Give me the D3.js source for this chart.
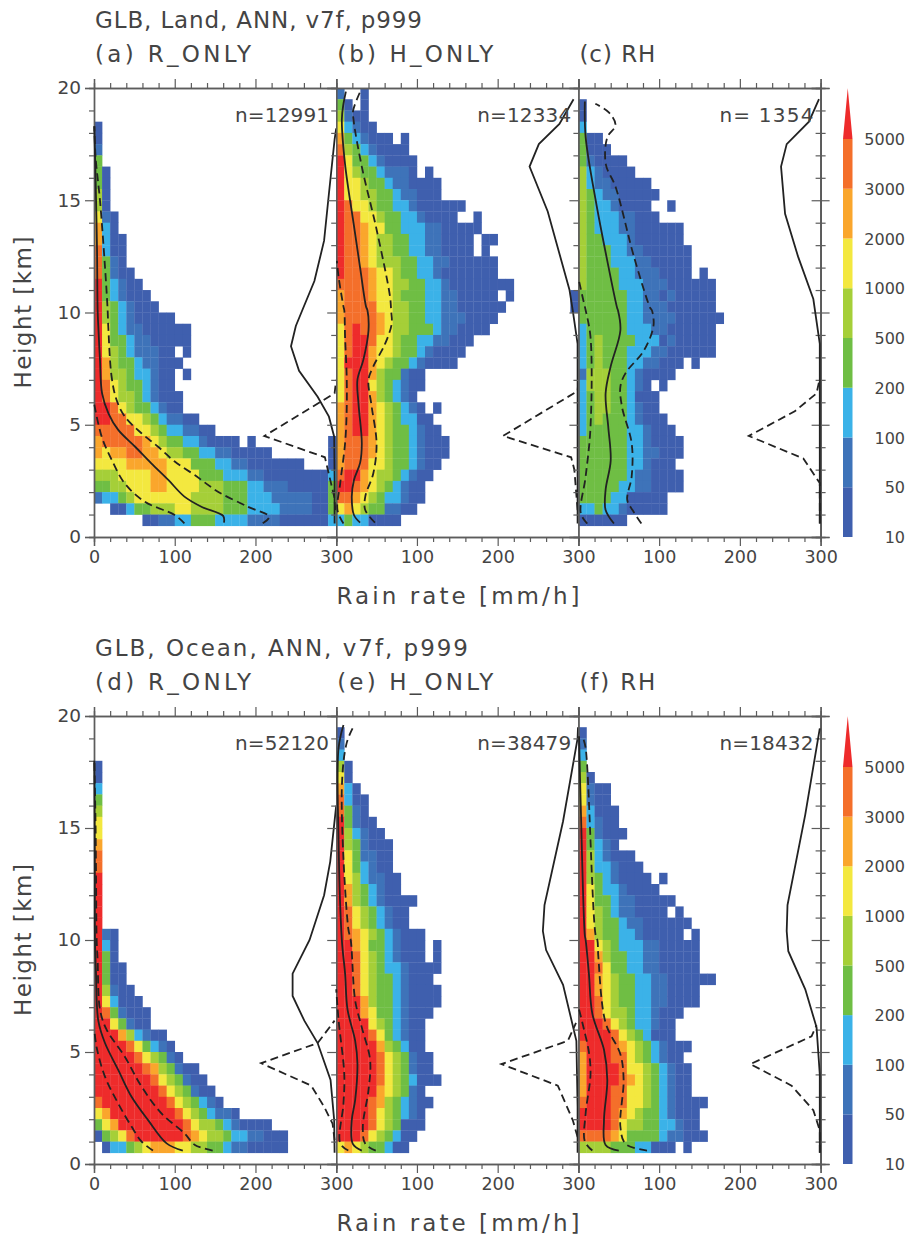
<!DOCTYPE html>
<html>
<head>
<meta charset="utf-8">
<script src="https://cdn.jsdelivr.net/npm/d3@7"></script>
<style>
  html, body { margin: 0; background: #fff; }
  text { font-family: "DejaVu Sans", sans-serif; fill: #444; white-space: pre; }
</style>
</head>
<body>
<div id="chart"></div>
<script>
// histogram rows, top row is 20-19.5 km, last row is 1-0.5 km. one digit per 10 mm/h bin, 0 = no data
const cellsA = ["", "", "", "1", "1", "2", "4", "41", "41", "51", "51", "621", "731", "7311", "8311", "8421", "84211", "943211", "9432111", "95432111",
  "9543211111", "964322111111", "964432211111", "965432221101", "97544322111", "975543321101", "9865443211", "98655432111", "99865443211", "9988665432211",
  "888886654332211", "788888765443321111010000000001", "767788776554433221111100000001", "666677777666444332211111110001",
  "555666677666644433322111111113", "445566677666655544433222111114", "233456666666555544433322222114", "001134455566555544433332222114", "000000112233444333322221111113"];
const cellsB = ["2001", "4101", "5211", "63211", "743211101", "854321111", "9644321111", "965443222101", "9665443221111", "9665544322111",
  "9866544332111111", "988665443321111001", "988766443332211111", "98876554433221111011", "9887655443322111101", "98876555443322111111", "98887665443321111111", "8888766554433211111111",
  "788876654443322111110100000001", "788886655443322111111000000001",
  "78888765544332221111", "6898876554443221111", "68998665443322111", "6899766544321111", "699976544321111", "68997544211", "68996543211", "6899754321",
  "7899765432101", "789976543311", "7899765443211", "78887654432111", "78887654432111", "7888665443211", "899765543211", "99876543211", "88765433211", "6765442211", "34331111"];
const cellsC = ["", "1", "1", "3", "411", "4111", "421111", "5321111", "532211111", "5432211111", "543321111001", "5433322111", "5433322111111", "5443332111111",
  "54443322111111", "54443332211111", "5444433222111101", "54444333222111111", "44444433221211111", "44444433222111111",
  "444444332222111111", "34444433322111111", "34544443331211111", "34544433322111111", "345444332211101", "255544321111", "35554432101", "3455443111", "3455443211",
  "34544432111", "344444332111", "4444443321111", "4444443322111", "444444332111", "4444443221111", "4444433221111", "44443311111", "33433211111", "111111"];
const cellsD = ["", "", "", "", "1", "1", "3", "4", "5", "6", "6", "7", "8", "8", "9", "9", "9", "9", "9", "921",
  "931", "941", "9411", "9411", "95211", "963111", "9842111", "9964211", "999753211", "9999864321", "99999865421", "9999998754211", "99999998654211", "999999998654211",
  "8999999998654321", "679999999986543221", "4679999999986554321111", "145689999998765543322111", "013345677766554432211111"];
const cellsE = ["", "1", "2", "3", "51", "61", "731", "8311", "8421", "94211", "953211", "9542111", "9642211", "9643211", "96532211", "97543211", "9754321111", "986543211", "986543211", "98765432111",
  "9976443211101", "9986543211101", "9986543321111", "998654432111", "9986544321111", "9997544321111", "999764432111", "99996543211", "99998643211", "99999754311",
  "999998654211", "999998654211", "9999986543111", "99999765421", "999987543211", "99998654321", "99998654111", "9998654311", "676544311"];
const cellsF = ["", "1", "2", "3", "4", "51", "6211", "6211", "73111", "83211", "942111", "94321", "9532111", "95332111", "95432111101", "9643321111", "964432211111", "9654322111101", "96544322111111", "975443321111101",
  "996543332211111", "997544332211111", "998644332211111", "99765443322111111", "997654433221111", "998654433221111", "9986554332111", "999865433211", "999986543111",
  "89998765432111", "7999886543211", "79999866543211", "79999876543211", "79998866543211", "8999886654321111", "999987654432111", "999986554433211", "8888764444322111", "55554443311101"];

// profile lines as [rain rate, height]
const meanA = [[161, .64], [160, .94], [133, 1.35], [112, 1.8], [92, 2.54], [71, 3.28], [51, 4.02], [30, 4.77], [18, 5.5], [10, 6.4], [7.4, 7.9], [5.3, 9.4], [4.5, 10.1], [3.7, 12.9], [2, 15.9], [.4, 18.3]];
const upperA = [[209, .61], [217, .9], [190.5, 1.35], [153.5, 2.02], [124.7, 2.76], [100, 3.36], [79.4, 4.02], [58.8, 4.62], [38.3, 5.36], [28, 6.1], [21.8, 7.14], [17.7, 9.37], [16.9, 10.1], [13.6, 12.04], [7.4, 15], [2, 16.9], [.4, 18.3]];
const lowerA = [[112, .61], [100, .98], [63, 1.57], [38, 2.39], [22, 3.43], [9.5, 4.47], [.4, 5.9]];
const fracSolidA = [[298, .6], [298, 2.7], [297.5, 4.47], [291, 5.36], [277, 6.25], [254, 7.4], [244, 8.5], [250, 9.4], [258, 10.1], [273, 11.4], [285, 13.2], [291, 15.3], [298, 17.7], [300, 18.2]];
const fracDashA = [[299, 1.2], [297.5, 1.8], [286, 3.55], [211, 4.5], [298, 6.4], [300, 7]];

const meanB = [[29.6, .64], [22, .98], [19.3, 1.8], [22, 2.54], [29.6, 3.3], [31.7, 4.17], [27.6, 5.95], [26.3, 7], [33.7, 7.9], [40, 9.2], [38.7, 10.1], [37, 10.26], [29.6, 12], [21.4, 14], [11, 16.6], [7, 18.6], [9, 19.3], [12, 19.84]];
const upperB = [[48, .64], [36, 1.2], [36, 1.8], [46, 2.84], [50, 4.17], [44, 5.8], [40, 7], [46, 7.6], [60.5, 8.6], [68.7, 9.5], [68, 10.1], [66.7, 10.7], [50, 13.7], [31.7, 16.5], [21.4, 18.6], [21, 19], [30.5, 19.9]];
const lowerB = [[9, .6], [1.6, 1.2], [5, 2.4], [11, 4.17], [13, 5.66], [13, 7.14], [11, 8.9], [10, 10.1], [9, 10.26], [2.9, 11.6], [.8, 12.3]];
const fracSolidB = [[299, .6], [299, 6.4], [299, 8.6], [293, 10.1], [289, 11], [262, 14.5], [239.5, 16.5], [251, 17.5], [276.5, 18.4], [294, 19.5]];
const fracDashB = [[299, 1.2], [295, 3], [291, 3.55], [206.6, 4.5], [299, 6.5], [300, 7]];

const meanC = [[44, .6], [33.7, 1.2], [33.7, 2.1], [40, 3.4], [37, 4.9], [33.7, 6.4], [40, 7.6], [52, 9.2], [49, 10.1], [48, 10.2], [35.8, 12.3], [21.4, 15], [9, 17.8], [8, 19.4]];
const upperC = [[78, .6], [67, 1.2], [60.5, 1.65], [66, 2.7], [66, 4.17], [54, 5.8], [52, 6.7], [58.4, 7.3], [81, 8.3], [93, 9.4], [91, 10.1], [89, 10.2], [68.7, 12.5], [46, 15.6], [34, 16.6], [35.8, 17.8], [46, 18.35], [38, 18.9], [21, 19.3]];
const lowerC = [[11, .6], [3, 1.05], [9, 2.7], [15, 4.9], [15, 8.9], [9, 10.1], [7, 10.4], [.8, 11.4]];
const fracSolidC = [[299, .6], [299, 8.6], [291, 10.6], [272, 12.5], [256, 14.4], [251, 16.5], [258, 17.5], [285.6, 18.5], [298, 19.5]];
const fracDashC = [[299, .6], [299, 2.4], [278.6, 3.5], [211, 4.5], [268, 5.6], [295, 6.4], [299, 7.07]];

const meanD = [[110, .6], [90, .92], [67, 1.96], [46.5, 3], [30, 4.2], [13.6, 5.4], [5.3, 6.4], [2.5, 8.5], [1.2, 10], [1, 13], [.8, 15], [.5, 17], [.3, 18]];
const upperD = [[147, .6], [125, .85], [112, 1.37], [83.5, 2.26], [59, 3.45], [38, 4.8], [15.6, 6], [7.4, 6.9], [4.5, 9.1], [3.3, 10], [2.5, 13], [2, 15], [1, 17], [.5, 18]];
const lowerD = [[73, .6], [59, 1], [46.5, 1.67], [30, 2.7], [13.6, 3.9], [3.3, 5.2], [.4, 6]];
const fracSolidD = [[298, .5], [297.5, 1.96], [293, 3.75], [277, 5.4], [260.5, 6.4], [246, 7.5], [246, 8.5], [267, 10], [285, 12], [292.6, 13.5], [300, 16]];
const fracDashD = [[298, 1.07], [295.5, 1.8], [285, 2.56], [269, 3.5], [207, 4.5], [277, 5.4], [298, 6.4]];

const meanE = [[31.7, .6], [20.6, .9], [19.3, 1.96], [23.5, 2.86], [26.3, 4.5], [23.5, 5.5], [14, 6.9], [11, 8.5], [7, 10], [2.9, 14.5], [2.9, 18.56], [9, 19.6]];
const upperE = [[49, .6], [36, .9], [33, 1.67], [40, 3.3], [42, 4.64], [31.7, 6.1], [23.5, 7.3], [18, 10], [15, 10.5], [7, 16.8], [13, 18.8], [21, 19.5]];
const lowerE = [[15, .6], [5, .92], [9, 2.7], [10, 4], [3, 6.4], [0, 7.8]];
const fracSolidE = [[299, .5], [299, 2.56], [297.5, 5.5], [281, 8], [260, 9.55], [256, 10.4], [258, 11.56], [281, 15.3], [299, 19], [299.5, 19.5]];
const fracDashE = [[299, 1.2], [293, 1.96], [274.5, 3.5], [204.5, 4.46], [287, 5.5], [297, 6.3]];

const meanF = [[50, .6], [33.7, .85], [31.7, 1.96], [35.8, 3.75], [31.7, 5.1], [17.3, 6.7], [13, 8.5], [9, 10], [8, 10.2], [2.9, 16], [.8, 19.1]];
const upperF = [[85, .6], [58.4, .9], [52, 1.67], [56, 3.75], [52, 4.9], [33.7, 6.3], [24.7, 9.25], [23.5, 10], [21.4, 10.2], [9, 18.56], [6, 19]];
const lowerF = [[17.3, .6], [8, 1], [9, 2.26], [15, 4], [13, 5], [7, 6], [.8, 6.9]];
const fracSolidF = [[299, .5], [299, 4], [295, 6.1], [281, 7.8], [260, 9.5], [258, 10.4], [259, 11.56], [281, 15.6], [299, 19.45]];
const fracDashF = [[299, .5], [299, 1.5], [291, 2.4], [264, 3.5], [213, 4.46], [288.8, 5.7], [295, 6.2]];

const titles = ["GLB, Land, ANN, v7f, p999", "GLB, Ocean, ANN, v7f, p999"];
const panelLabels = ["(a) R_ONLY", "(b) H_ONLY", "(c) RH", "(d) R_ONLY", "(e) H_ONLY", "(f) RH"];
const counts = ["n=12991", "n=12334", "n= 1354", "n=52120", "n=38479", "n=18432"];
const colorLevels = ["10", "50", "100", "200", "500", "1000", "2000", "3000", "5000"];
const colors = ["#3f5fae", "#3e73b9", "#3bb2e8", "#6fbe44", "#a5cf38", "#f3e83f", "#faa62c", "#f46f2a", "#ee2b2b"];
const rateMajor = [0, 100, 200, 300];
const rateMinor = [20, 40, 60, 80, 120, 140, 160, 180, 220, 240, 260, 280];
const heightMajor = [0, 5, 10, 15, 20];
const heightMinor = [1, 2, 3, 4, 6, 7, 8, 9, 11, 12, 13, 14, 16, 17, 18, 19];

const allCells = [cellsA, cellsB, cellsC, cellsD, cellsE, cellsF];
const allMean = [meanA, meanB, meanC, meanD, meanE, meanF];
const allUpper = [upperA, upperB, upperC, upperD, upperE, upperF];
const allLower = [lowerA, lowerB, lowerC, lowerD, lowerE, lowerF];
const allFracSolid = [fracSolidA, fracSolidB, fracSolidC, fracSolidD, fracSolidE, fracSolidF];
const allFracDash = [fracDashA, fracDashB, fracDashC, fracDashD, fracDashE, fracDashF];

const panelLefts = [94, 336.2, 578.4];
const panelWidth = 242.2;
const rowTops = [88, 716];
const rowBottoms = [537, 1164];
const axisColor = "#5c5c5c";

const svg = d3.select("#chart").append("svg").attr("width", 909).attr("height", 1239).style("display", "block");

function drawAxis(g, axis, x, y, size) {
  const a = g.append("g").attr("transform", `translate(${x},${y})`).call(axis);
  a.selectAll("path, line").attr("stroke", axisColor).attr("stroke-width", 1.2);
  a.select(".domain").attr("stroke-width", 1.4);
  a.selectAll("text").attr("fill", "#444").style("font-size", size || "17.5px").style("font-family", '"DejaVu Sans", sans-serif');
  return a;
}

rowTops.forEach((top, r) => {
  const bottom = rowBottoms[r];
  const y = d3.scaleLinear().domain([0, 20]).range([bottom, top]);
  const g = svg.append("g");

  g.append("text").attr("x", 95).attr("y", top - 60).attr("textLength", r ? 373 : 327).style("font-size", "23px").text(titles[r]);

  panelLefts.forEach((left, c) => {
    const p = r * 3 + c;
    const x = d3.scaleLinear().domain([0, 300]).range([left, left + panelWidth]);
    const binWidth = x(10) - x(0);
    const binHeight = y(0) - y(.5);

    const cells = allCells[p].flatMap((row, i) => Array.from(row, (v, j) => ({ top: 20 - i * .5, rate: j * 10, level: +v }))).filter((d) => d.level > 0);
    g.append("g").selectAll("rect").data(cells).enter().append("rect")
      .attr("x", (d) => x(d.rate))
      .attr("y", (d) => y(d.top))
      .attr("width", binWidth + .3)
      .attr("height", binHeight + .3)
      .attr("fill", (d) => colors[d.level - 1]);

    // bottom and top ticks, the 0 label only on the first panel
    const major = c === 0 ? rateMajor : rateMajor.slice(1);
    drawAxis(g, d3.axisBottom(x).tickValues(major).tickFormat((d) => d).tickSize(9).tickPadding(5), 0, bottom);
    drawAxis(g, d3.axisBottom(x).tickValues(rateMinor).tickFormat("").tickSize(5), 0, bottom);
    drawAxis(g, d3.axisTop(x).tickValues(rateMajor).tickFormat("").tickSize(9), 0, top);
    drawAxis(g, d3.axisTop(x).tickValues(rateMinor).tickFormat("").tickSize(5), 0, top);

    const yMajor = d3.axisLeft(y).tickValues(heightMajor).tickSize(9).tickPadding(4);
    drawAxis(g, c === 0 ? yMajor : yMajor.tickFormat(""), left, 0, "18.5px");
    drawAxis(g, d3.axisLeft(y).tickValues(heightMinor).tickFormat("").tickSize(5), left, 0);
    if (c === 2) {
      // right edge has ticks on both sides
      [d3.axisLeft, d3.axisRight].forEach((ax) => {
        drawAxis(g, ax(y).tickValues(heightMajor).tickFormat("").tickSize(9), x(300), 0);
        drawAxis(g, ax(y).tickValues(heightMinor).tickFormat("").tickSize(5), x(300), 0);
      });
    }

    const line = d3.line().x((d) => x(d[0])).y((d) => y(d[1]));
    const smooth = d3.line().x((d) => x(d[0])).y((d) => y(d[1])).curve(d3.curveCatmullRom.alpha(.5));
    const drawLine = (gen, data, dash) => g.append("path").attr("d", gen(data)).attr("fill", "none")
      .attr("stroke", "#222").attr("stroke-width", 1.8).attr("stroke-dasharray", dash);
    drawLine(smooth, allMean[p], null);
    drawLine(smooth, allUpper[p], "8 4.5");
    drawLine(smooth, allLower[p], "8 4.5");
    drawLine(line, allFracSolid[p], null);
    drawLine(line, allFracDash[p], "8 4.5");

    g.append("text").attr("x", left + 1).attr("y", top - 26).attr("textLength", panelLabels[p].length > 6 ? 156 : 76).style("font-size", "23px").text(panelLabels[p]);
    g.append("text").attr("x", left + 235).attr("y", top + 34).attr("text-anchor", "end").attr("textLength", 94).style("font-size", "20px").text(counts[p]);
  });

  g.append("text").attr("x", 458).attr("y", bottom + 67).attr("text-anchor", "middle").attr("textLength", 243).style("font-size", "23px").text("Rain rate [mm/h]");
  g.append("text").attr("transform", `translate(31,${(top + bottom) / 2}) rotate(-90)`).attr("text-anchor", "middle").attr("textLength", 152).style("font-size", "23px").text("Height [km]");

  // colour bar, one box per level with a triangle on top
  const barY = d3.scalePoint().domain(colorLevels).range([bottom, top + 51]);
  const barX = 843, barW = 9.5;
  const bar = g.append("g");
  colorLevels.slice(0, -1).forEach((lev, i) => {
    bar.append("rect").attr("x", barX).attr("y", barY(colorLevels[i + 1])).attr("width", barW)
      .attr("height", barY(lev) - barY(colorLevels[i + 1])).attr("fill", colors[i]);
  });
  bar.append("path").attr("fill", colors[8])
    .attr("d", `M${barX},${barY("5000")}L${barX + barW / 2},${top}L${barX + barW},${barY("5000")}Z`);
  colorLevels.forEach((lev) => {
    g.append("text").attr("x", 905).attr("y", barY(lev) + 6).attr("text-anchor", "end").style("font-size", "16px").text(lev);
  });
});
</script>
</body>
</html>
